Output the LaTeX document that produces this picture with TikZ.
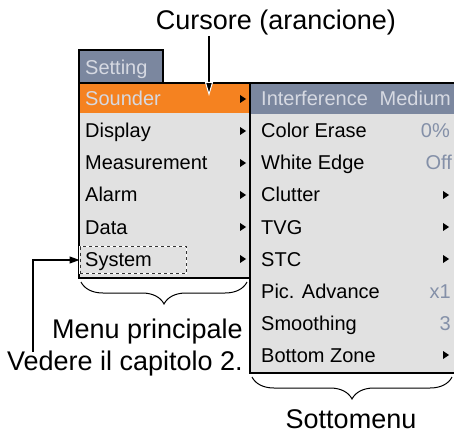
\documentclass[tikz,border=0pt]{standalone}
\usepackage{fontspec}
\setmainfont{Liberation Sans}
\usetikzlibrary{arrows.meta,decorations.pathreplacing}
\definecolor{menuorange}{HTML}{F58220}
\definecolor{slate}{HTML}{7B879F}
\definecolor{menugray}{HTML}{E1E1E1}
\definecolor{lighttxt}{HTML}{D6D9E2}
\definecolor{valgray}{HTML}{8490A8}
\begin{document}
\begin{tikzpicture}[x=1pt,y=-1pt]
\tikzstyle{every node}+=[inner sep=0pt]
\tikzstyle{item}=[anchor=base west, font=\fontsize{20}{24}\selectfont]
\tikzstyle{val}=[anchor=base east, text=valgray, font=\fontsize{20}{24}\selectfont]
\tikzstyle{lbl}=[font=\fontsize{27}{31}\selectfont]
\tikzstyle{brc}=[decorate, decoration={brace, mirror, amplitude=22pt}, line width=1pt]
\useasboundingbox (0,0) rectangle (454,435);
% setting tab and menus
\filldraw [fill=slate, draw=black, line width=1.5pt] (79,50) rectangle (163,83);
\node [item, text=lighttxt] (setting) at (85,75) {Setting};
\fill [menugray] (79,83) rectangle (250,278);
\fill [menuorange] (79,83) rectangle (250,113);
\fill [menugray] (250,83) rectangle (456,373);
\fill [slate] (250,83) rectangle (456,114);
\draw [black, line width=1.5pt] (79,83) rectangle (250,278);
\draw [black, line width=1.5pt] (250,83) rectangle (456,373);
% main menu
\node [item, text=lighttxt] (sounder) at (85,106) {Sounder};
\node [item] (display) at (85,138) {Display};
\node [item] (measure) at (85,170) {Measurement};
\node [item] (alarm) at (85,202) {Alarm};
\node [item] (data) at (85,234) {Data};
\node [item] (system) at (85,266) {System};
\fill [black] (240,95) -- (246,99) -- (240,103) -- cycle;
\fill [black] (240,127) -- (246,131) -- (240,135) -- cycle;
\fill [black] (240,159) -- (246,163) -- (240,167) -- cycle;
\fill [black] (240,191) -- (246,195) -- (240,199) -- cycle;
\fill [black] (240,223) -- (246,227) -- (240,231) -- cycle;
\fill [black] (240,255) -- (246,259) -- (240,263) -- cycle;
\draw [white, line width=1pt] (79.5,246) rectangle (186,273);
\node [draw=black!80, dashed, line width=1pt, minimum width=106.5pt, minimum height=27pt, anchor=north west] (sysbox) at (79.5,246) {};
% submenu
\node [item, text=lighttxt] (interf) at (261,106) {Interference};
\node [val, text=lighttxt] (interfval) at (451,106) {Medium};
\node [item] (erase) at (261,138) {Color Erase};
\node [val] (eraseval) at (450,138) {0\%};
\node [item] (edge) at (261,170) {White Edge};
\node [val] (edgeval) at (452,170) {Off};
\node [item] (clutter) at (261,202) {Clutter};
\node [item] (tvg) at (261,234) {TVG};
\node [item] (stc) at (261,266) {STC};
\node [item] (picadv) at (261,298) {Pic. Advance};
\node [val] (picadvval) at (451,298) {x1};
\node [item] (smooth) at (261,330) {Smoothing};
\node [val] (smoothval) at (451,330) {3};
\node [item] (bottom) at (261,362) {Bottom Zone};
\fill [black] (443,191) -- (449,195) -- (443,199) -- cycle;
\fill [black] (443,223) -- (449,227) -- (443,231) -- cycle;
\fill [black] (443,255) -- (449,259) -- (443,263) -- cycle;
\fill [black] (443,351) -- (449,355) -- (443,359) -- cycle;
% labels
\node [lbl, anchor=base] (curlbl) at (276,30) {Cursore (arancione)};
\coordinate (curtip) at (209,96);
\draw [black, line width=1.3pt, -{Triangle[length=14pt, width=8pt, color=white, fill=black, line width=1pt]}] (curlbl.south -| curtip) -- (curtip);
\draw [brc] (81,282) -- (247,282);
\node [lbl, anchor=base east] (mainlbl) at (243,338) {Menu principale};
\node [lbl, anchor=base east] (seelbl) at (243,370) {Vedere il capitolo 2.};
\coordinate (seestart) at (33,352);
\draw [black, line width=1.2pt, -{Triangle[length=10pt, width=7pt]}] (seestart) |- (sysbox.west);
\draw [brc] (252,377) -- (452,377);
\node [lbl, anchor=base] (sublbl) at (351,428) {Sottomenu};
\end{tikzpicture}
\end{document}
